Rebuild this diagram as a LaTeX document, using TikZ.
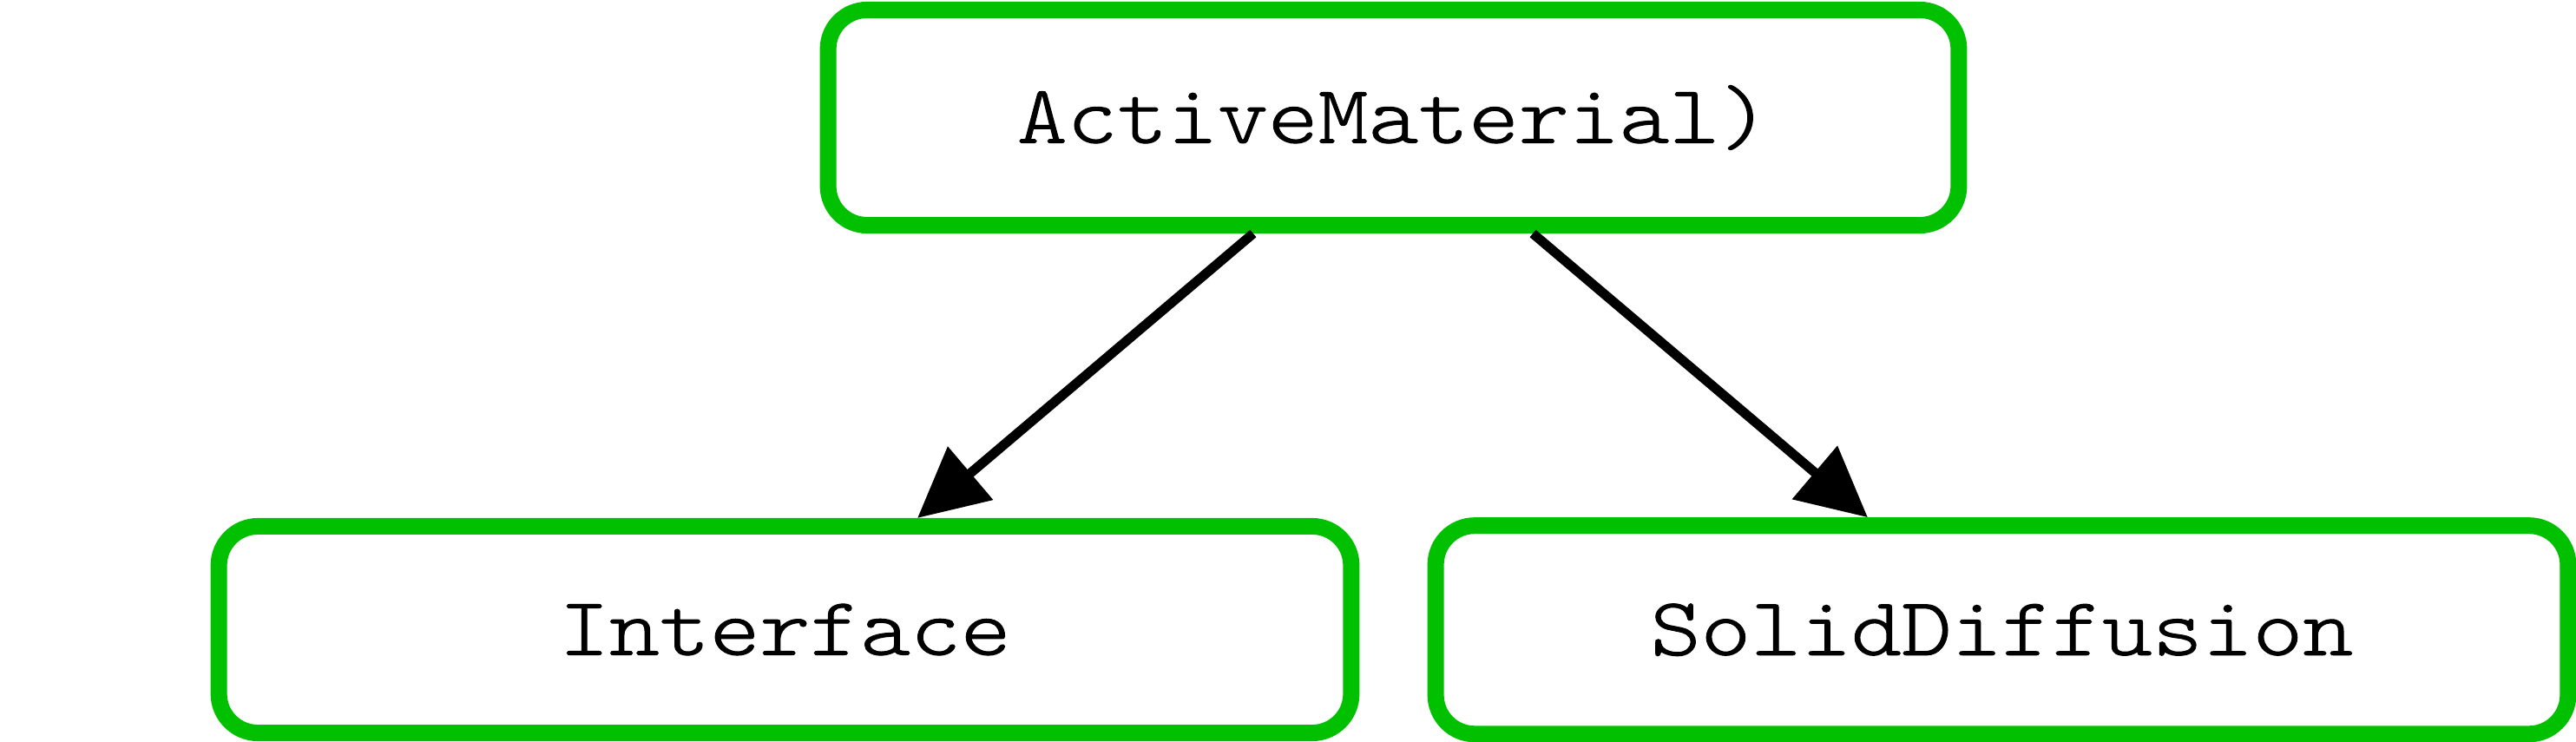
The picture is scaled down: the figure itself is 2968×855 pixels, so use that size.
\documentclass[tikz,border=0pt]{standalone}
\usepackage{fontspec}
\setmonofont{lmmonolt10-regular.otf}[FakeStretch=1.16,FakeBold=1.2]
\usetikzlibrary{arrows.meta}
\definecolor{boxgreen}{RGB}{0,192,0}

\begin{document}
\begin{tikzpicture}[
	x=0.01cm,y=-0.01cm,
	mbox/.style={rectangle,rounded corners=0.45cm,draw=boxgreen,line width=0.19cm,fill=white,font=\ttfamily\fontsize{27}{30}\selectfont},
	medge/.style={draw=black,line width=0.11cm,-{Triangle[length=0.8cm,width=0.78cm]}}
	]
	\useasboundingbox (0,0) rectangle (2968,855);
	\node[mbox,minimum width=13.02cm,minimum height=2.48cm] (act) at (1605.5,135.5) {ActiveMaterial)};
	\node[mbox,minimum width=13.04cm,minimum height=2.38cm] (intf) at (904.5,725.5) {Interface};
	\node[mbox,minimum width=13.04cm,minimum height=2.40cm] (sdiff) at (2306.5,725.75) {SolidDiffusion};
	\draw[medge] ([xshift=-1.615cm]act.south) -- ([xshift=1.525cm]intf.north);
	\draw[medge] ([xshift=1.605cm]act.south) -- ([xshift=-1.545cm]sdiff.north);
\end{tikzpicture}
\end{document}
